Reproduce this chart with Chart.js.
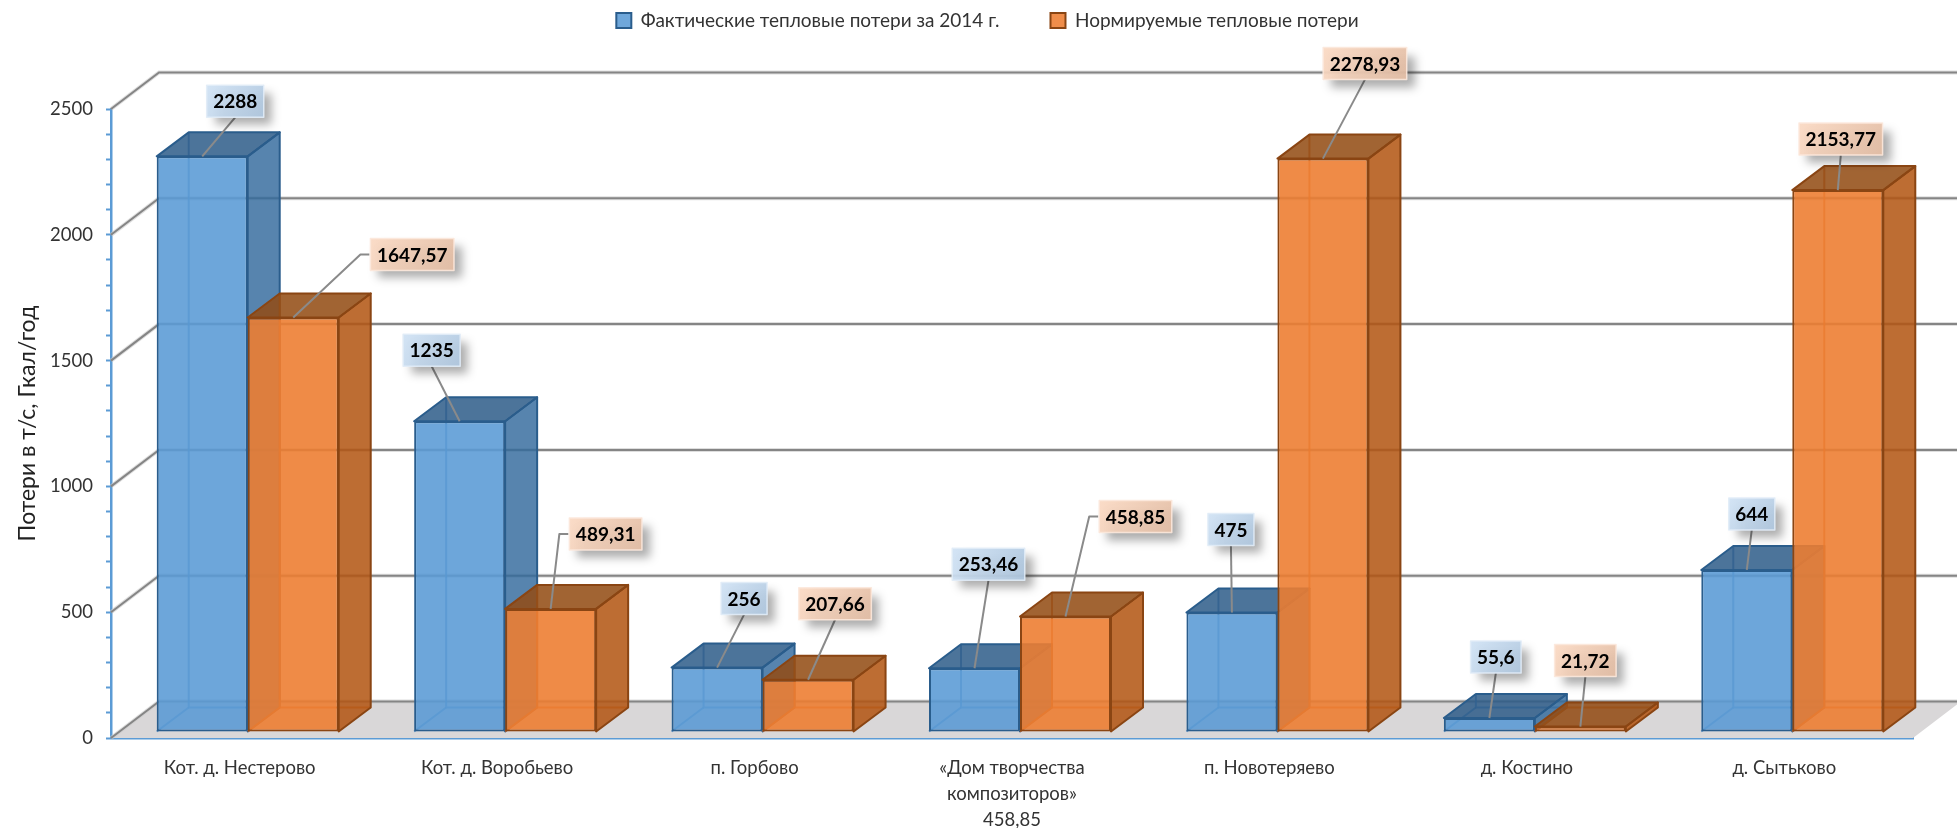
<!DOCTYPE html>
<html>
<head>
<meta charset="utf-8">
<title>Тепловые потери</title>
<script src="https://cdn.jsdelivr.net/npm/chart.js@4"></script>
<style>
  html, body { margin: 0; background: #fff; }
  canvas { display: block; }
</style>
</head>
<body>
<canvas id="grafico" width="1957" height="828"></canvas>
<script>
const categorias = [
  'Кот. д. Нестерово',
  'Кот. д. Воробьево',
  'п. Горбово',
  ['«Дом творчества', 'композиторов»', '458,85'],
  'п. Новотеряево',
  'д. Костино',
  'д. Сытьково'
];
const fakticheskie = [2288, 1235, 256, 253.46, 475, 55.6, 644];
const normiruemye = [1647.57, 489.31, 207.66, 458.85, 2278.93, 21.72, 2153.77];
const nombresSeries = ['Фактические тепловые потери за 2014 г.', 'Нормируемые тепловые потери'];

// donde va cada etiqueta respecto al borde superior de su barra
const offsetsFakt = [[33, -55], [-28, -71], [27, -69], [14, -104], [-1, -83], [6.5, -61], [5, -56]];
const offsetsNorm = [[119, -63], [55, -75], [27, -76], [70, -100], [42, -95], [5, -66], [3, -51]];

const FUENTE = 'Lato, "Noto Sans", sans-serif';
const AZUL_EJE = '#5b9bd5';

// proyeccion oblicua de la caja y del suelo
const PARED = { dx: 48, dy: -36.5 };
const FONDO = { dx: 32, dy: -24 };
const DESP = { dx: 8, dy: -6 };

const estilos = [
  {
    interior: 'rgba(91,155,213,0.12)', linea: 'rgba(62,125,185,0.75)',
    lado: 'rgba(50,105,155,0.8)', arriba: 'rgba(45,90,135,0.83)', borde: '#2a5d8c',
    caja: ['rgba(208,226,244,0.93)', 'rgba(176,200,224,0.93)'], cajaBorde: 'rgba(225,236,247,0.9)'
  },
  {
    interior: 'rgba(237,125,49,0.12)', linea: 'rgba(215,100,25,0.75)',
    lado: 'rgba(178,86,20,0.85)', arriba: 'rgba(145,75,20,0.85)', borde: '#8a4513',
    caja: ['rgba(250,217,195,0.93)', 'rgba(228,190,165,0.93)'], cajaBorde: 'rgba(252,232,220,0.9)'
  }
];

function poligono(ctx, puntos, relleno, trazo, ancho) {
  ctx.beginPath();
  puntos.forEach((p, i) => (i ? ctx.lineTo(p[0], p[1]) : ctx.moveTo(p[0], p[1])));
  ctx.closePath();
  if (relleno) { ctx.fillStyle = relleno; ctx.fill(); }
  if (trazo) { ctx.strokeStyle = trazo; ctx.lineWidth = ancho; ctx.stroke(); }
}

function linea(ctx, puntos, color, ancho) {
  ctx.beginPath();
  puntos.forEach((p, i) => (i ? ctx.lineTo(p[0], p[1]) : ctx.moveTo(p[0], p[1])));
  ctx.strokeStyle = color;
  ctx.lineWidth = ancho;
  ctx.stroke();
}

function dibujarParedes(chart) {
  const { ctx, chartArea: a, scales: { y } } = chart;
  const y0 = y.getPixelForValue(0);
  poligono(ctx, [
    [a.left, y0],
    [a.left + PARED.dx, y0 + PARED.dy],
    [a.right + PARED.dx, y0 + PARED.dy],
    [a.right, y0]
  ], '#d9d7d8');
  y.ticks.forEach(t => {
    if (t.value % 500 !== 0) return;
    const py = y.getPixelForValue(t.value);
    const pts = [[a.left, py], [a.left + PARED.dx, py + PARED.dy], [1957, py + PARED.dy]];
    linea(ctx, pts, 'rgba(200,200,200,0.6)', 4);
    linea(ctx, pts, '#858585', 2);
  });
}

function dibujarCaras(ctx, meta, e) {
  meta.data.forEach(bar => {
    const izq = bar.x - bar.width / 2 + DESP.dx;
    const der = bar.x + bar.width / 2 + DESP.dx;
    const sup = bar.y + DESP.dy;
    const inf = bar.base + DESP.dy;
    const dx = FONDO.dx, dy = FONDO.dy;
    // caras interiores, se ven a traves de la barra
    poligono(ctx, [[izq + dx, sup + dy], [der + dx, sup + dy], [der + dx, inf + dy], [izq + dx, inf + dy]], e.interior);
    poligono(ctx, [[izq, inf], [der, inf], [der + dx, inf + dy], [izq + dx, inf + dy]], e.interior);
    poligono(ctx, [[izq, sup], [izq + dx, sup + dy], [izq + dx, inf + dy], [izq, inf]], e.interior);
    linea(ctx, [[izq + dx, sup + dy], [izq + dx, inf + dy], [der + dx, inf + dy]], e.linea, 2);
    linea(ctx, [[izq + dx, inf + dy], [izq, inf]], e.linea, 2);
    // lado y tapa
    poligono(ctx, [[der, sup], [der + dx, sup + dy], [der + dx, inf + dy], [der, inf]], e.lado, e.borde, 2);
    poligono(ctx, [[izq, sup], [izq + dx, sup + dy], [der + dx, sup + dy], [der, sup]], e.arriba, e.borde, 2);
  });
}

function dibujarEtiquetas(chart) {
  const { ctx } = chart;
  const offsets = [offsetsFakt, offsetsNorm];
  ctx.font = 'bold 19px ' + FUENTE;
  [0, 1].forEach(s => {
    const bars = chart.getDatasetMeta(s).data;
    const valores = chart.data.datasets[s].data;
    bars.forEach((bar, i) => {
      const texto = String(valores[i]).replace('.', ',');
      const ax = bar.x + DESP.dx;
      const ay = bar.y + DESP.dy;
      const cx = ax + offsets[s][i][0];
      const cy = ay + offsets[s][i][1];
      const w = ctx.measureText(texto).width + 13;
      const h = 32;
      const x0 = cx - w / 2, y0 = cy - h / 2;

      // linea guia
      if (cx - ax > w / 2 + 5) {
        linea(ctx, [[x0 - 1, cy], [x0 - 10, cy], [ax, ay]], '#8a8a8a', 2);
      } else {
        linea(ctx, [[cx, y0 + h], [ax, ay]], '#8a8a8a', 2);
      }

      // caja con sombra
      const grad = ctx.createLinearGradient(x0, y0, x0 + w, y0 + h);
      grad.addColorStop(0, estilos[s].caja[0]);
      grad.addColorStop(1, estilos[s].caja[1]);
      ctx.save();
      ctx.shadowColor = 'rgba(0,0,0,0.35)';
      ctx.shadowBlur = 9;
      ctx.shadowOffsetX = 8;
      ctx.shadowOffsetY = 8;
      ctx.fillStyle = grad;
      ctx.fillRect(x0, y0, w, h);
      ctx.restore();
      ctx.strokeStyle = estilos[s].cajaBorde;
      ctx.lineWidth = 1.5;
      ctx.strokeRect(x0, y0, w, h);

      ctx.fillStyle = '#000';
      ctx.textAlign = 'center';
      ctx.textBaseline = 'middle';
      ctx.fillText(texto, cx, cy + 1);
    });
  });
}

const plugin3d = {
  id: 'plugin3d',
  beforeLayout(chart) {
    // la leyenda no ocupa sitio en el layout, el hueco lo da layout.padding.top
    const ley = chart.legend;
    if (ley.fitOriginal) return;
    ley.fitOriginal = ley.fit;
    ley.fit = function () {
      this.fitOriginal();
      this.height = 0;
    };
  },
  afterLayout(chart) {
    const ley = chart.legend;
    ley.left = 0;
    ley.right = 1957 + 18;
    ley.width = ley.right;
    ley.top = 11 - ley.options.labels.padding;
    ley.bottom = 60;
  },
  beforeDatasetsDraw(chart) {
    // azul primero y naranja encima, cada una con sus caras 3D
    const { ctx } = chart;
    ctx.save();
    dibujarParedes(chart);
    ctx.lineJoin = 'round';
    [0, 1].forEach(s => {
      const meta = chart.getDatasetMeta(s);
      dibujarCaras(ctx, meta, estilos[s]);
      // la cara frontal la dibuja Chart.js, desplazada al plano de las barras
      ctx.save();
      ctx.translate(DESP.dx, DESP.dy);
      meta.controller.draw();
      ctx.restore();
    });
    dibujarEtiquetas(chart);
    ctx.restore();
    return false;
  }
};

new Chart(document.getElementById('grafico'), {
  type: 'bar',
  data: {
    labels: categorias,
    datasets: [
      {
        label: nombresSeries[0],
        data: fakticheskie,
        backgroundColor: 'rgba(91,155,213,0.88)',
        borderColor: '#2a5d8c',
        borderWidth: 2,
        borderSkipped: false,
        categoryPercentage: 0.707,
        barPercentage: 1
      },
      {
        label: nombresSeries[1],
        data: normiruemye,
        backgroundColor: 'rgba(237,125,49,0.88)',
        borderColor: '#8a4513',
        borderWidth: 2,
        borderSkipped: false,
        categoryPercentage: 0.707,
        barPercentage: 1
      }
    ]
  },
  plugins: [plugin3d],
  options: {
    responsive: false,
    animation: false,
    layout: { padding: { top: 109, right: 44, left: 0, bottom: 0 } },
    plugins: {
      tooltip: { enabled: false },
      legend: {
        position: 'top',
        labels: {
          padding: 51,
          boxWidth: 15,
          boxHeight: 15,
          color: '#333',
          font: { family: FUENTE, size: 19 }
        }
      }
    },
    scales: {
      x: {
        afterFit: s => { s.height = 90; },
        grid: { display: false },
        border: { color: AZUL_EJE, width: 2.5 },
        ticks: {
          color: '#333',
          padding: 9,
          maxRotation: 0,
          autoSkip: false,
          font: { family: FUENTE, size: 18.5, lineHeight: 1.4 }
        }
      },
      y: {
        min: 0,
        max: 2500,
        afterFit: s => { s.width = 111; },
        border: { color: AZUL_EJE, width: 2.5 },
        grid: { drawOnChartArea: false, color: AZUL_EJE, tickLength: 5, tickWidth: 2 },
        title: {
          display: true,
          text: 'Потери в т/с, Гкал/год',
          color: '#222',
          padding: { top: 14, bottom: 0 },
          font: { family: FUENTE, size: 23 }
        },
        ticks: {
          stepSize: 100,
          autoSkip: false,
          padding: 13,
          color: '#333',
          font: { family: FUENTE, size: 18.5 },
          callback: v => (v % 500 === 0 ? v : '')
        }
      }
    }
  }
});
</script>
</body>
</html>
